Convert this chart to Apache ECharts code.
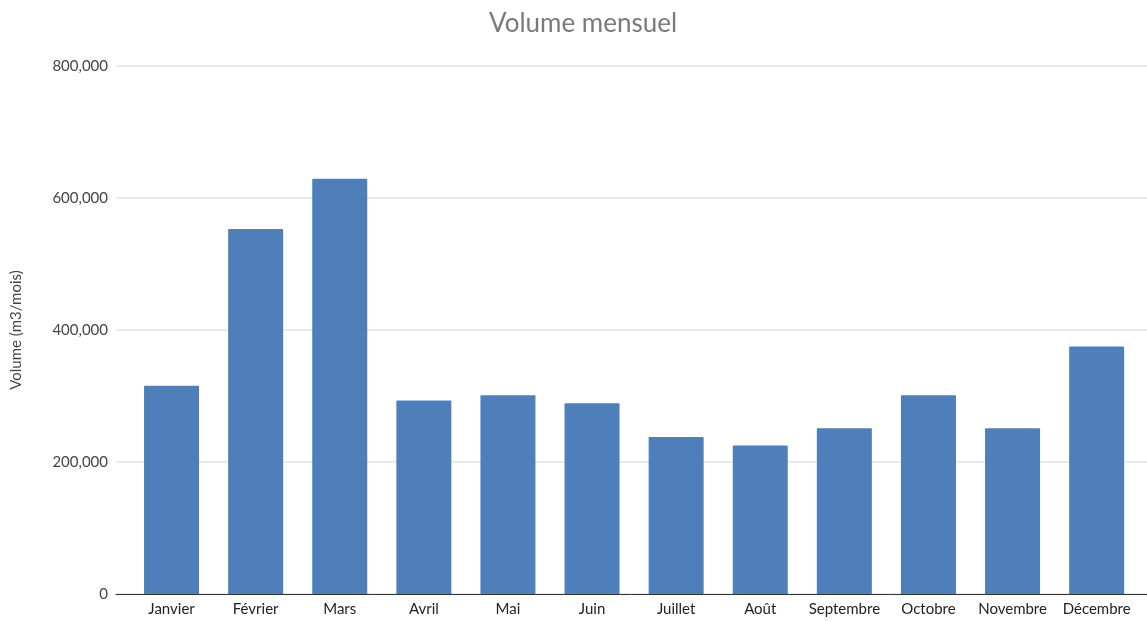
<!DOCTYPE html>
<html>
<head>
<meta charset="utf-8">
<script src="https://cdn.jsdelivr.net/npm/echarts@6/dist/echarts.min.js"></script>
<style>
  html, body { margin: 0; padding: 0; background: #fff; }
  #chart { width: 1147px; height: 621px; }
</style>
</head>
<body>
<div id="chart"></div>
<script>
// Monthly volumes (m3/mois)
const months = ['Janvier', 'Février', 'Mars', 'Avril', 'Mai', 'Juin', 'Juillet', 'Août', 'Septembre', 'Octobre', 'Novembre', 'Décembre'];
const volumes = [315500, 553000, 629000, 293000, 301000, 289000, 238000, 225000, 251000, 301000, 251000, 375000];
const yTicks = [0, 200000, 400000, 600000, 800000];

const FONT = 'Lato, "Open Sans", sans-serif';
const yMin = yTicks[0];
const yMax = yTicks[yTicks.length - 1];
const yStep = yTicks[1] - yTicks[0];

const chart = echarts.init(document.getElementById('chart'), null, { renderer: 'canvas' });

chart.setOption({
  animation: false,
  backgroundColor: '#ffffff',
  title: {
    text: 'Volume mensuel',
    left: 484,
    top: 6,
    textStyle: { fontFamily: FONT, fontSize: 26, fontWeight: 'normal', color: '#7a7a7a' }
  },
  grid: [
    // frame: gridlines, value labels and baseline
    { left: 116, right: 0, top: 66, bottom: 27 },
    // bars
    { left: 129.5, right: 8.3, top: 66, bottom: 27 }
  ],
  xAxis: [
    {
      type: 'category', gridIndex: 0, data: months,
      axisLine: { show: true, lineStyle: { color: '#333', width: 1 } },
      axisTick: { show: false }, axisLabel: { show: false }
    },
    {
      type: 'category', gridIndex: 1, data: months,
      axisLine: { show: false }, axisTick: { show: false },
      axisLabel: { interval: 0, fontFamily: FONT, fontSize: 15, color: '#222', margin: 8 }
    }
  ],
  yAxis: [
    {
      type: 'value', gridIndex: 0, min: yMin, max: yMax, interval: yStep,
      name: 'Volume (m3/mois)', nameLocation: 'middle', nameGap: 92, nameRotate: 90,
      nameTextStyle: { fontFamily: FONT, fontSize: 15, color: '#444' },
      axisLine: { show: false }, axisTick: { show: false },
      axisLabel: {
        fontFamily: FONT, fontSize: 15, color: '#444', margin: 8,
        formatter: v => v.toLocaleString('en-US')
      },
      splitLine: { lineStyle: { color: '#e3e3e3', width: 1.5 } }
    },
    {
      type: 'value', gridIndex: 1, min: yMin, max: yMax, interval: yStep,
      show: false, splitLine: { show: false }
    }
  ],
  series: [
    {
      type: 'bar',
      xAxisIndex: 1, yAxisIndex: 1,
      data: volumes,
      barCategoryGap: '34.6%',
      itemStyle: { color: '#4e7fbb', borderRadius: [1, 1, 0, 0] },
      z: 1
    }
  ]
});
</script>
</body>
</html>
